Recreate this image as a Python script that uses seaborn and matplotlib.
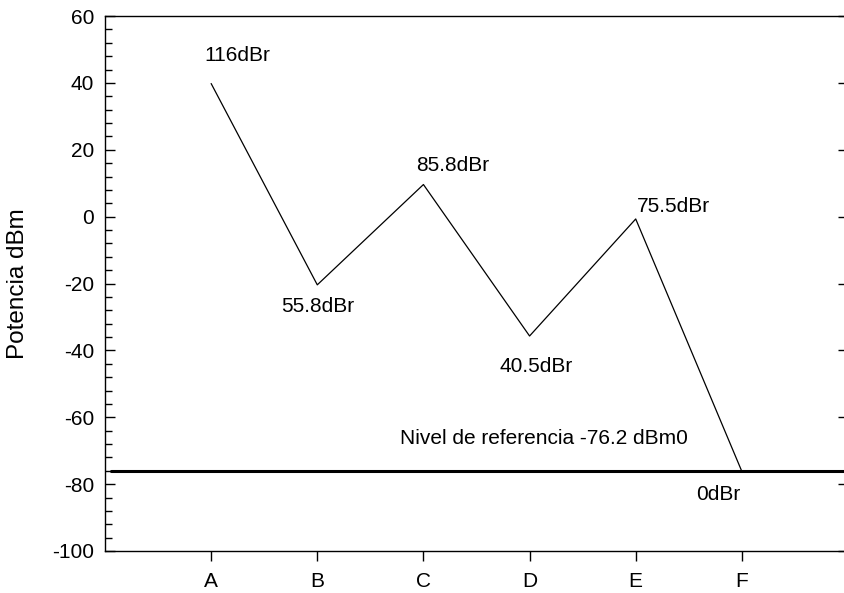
import seaborn as sns
import matplotlib.pyplot as plt
import numpy as np
from matplotlib.ticker import MultipleLocator

puntos = ['A', 'B', 'C', 'D', 'E', 'F']
potencia = [39.8, -20.4, 9.6, -35.7, -0.7, -76.2]
etiquetas = ['116dBr', '55.8dBr', '85.8dBr', '40.5dBr', '75.5dBr', '0dBr']
nivel_ref = -76.2

sns.set_style('ticks')
plt.rcParams['font.family'] = ['Liberation Sans', 'DejaVu Sans']
plt.rcParams['font.size'] = 15
plt.rcParams['axes.unicode_minus'] = False
plt.rcParams['text.color'] = 'black'
plt.rcParams['axes.labelcolor'] = 'black'
plt.rcParams['xtick.color'] = 'black'
plt.rcParams['ytick.color'] = 'black'

fig = plt.figure(figsize=(8.44, 5.93), dpi=100)
ax = fig.add_axes([105 / 844, 42 / 593, 743 / 844, 535 / 593])

x = np.arange(1, len(puntos) + 1)
sns.lineplot(x=x, y=potencia, ax=ax, color='black', linewidth=0.9)
ax.axhline(nivel_ref, xmin=0.008, color='black', linewidth=2.2)

# desplazamientos de las etiquetas (pixeles)
offs = [(-7, 28), (-36, -22), (-7, 19), (-30, -31), (1, 12), (-46, -23)]
for xi, yi, t, (dx, dy) in zip(x, potencia, etiquetas, offs):
    ax.annotate(t, (xi, yi), xytext=(dx, dy), textcoords='offset pixels',
                ha='left', va='center')
ax.text(2.78, -66.3, 'Nivel de referencia -76.2 dBm0', ha='left', va='center')

ax.set_xlim(0, 7)
ax.set_ylim(-100, 60)
ax.set_xticks(x)
ax.set_xticklabels(puntos)
ax.yaxis.set_major_locator(MultipleLocator(20))
ax.yaxis.set_minor_locator(MultipleLocator(4))
ax.tick_params(axis='y', which='major', direction='in', length=7, width=1, right=True,
               labelsize=15, pad=8)
ax.tick_params(axis='y', which='minor', direction='in', length=5, width=1, left=True, right=False)
ax.tick_params(axis='x', direction='out', length=7, width=1, labelsize=15, pad=8)
ax.set_ylabel('Potencia dBm', fontsize=17.5)
ax.yaxis.set_label_coords(-76 / 743, 0.5)
for s in ax.spines.values():
    s.set_linewidth(1)
    s.set_color('black')

fig.savefig('out.png', dpi=100)
